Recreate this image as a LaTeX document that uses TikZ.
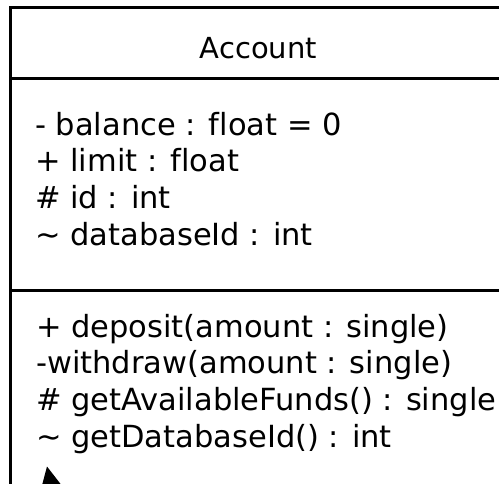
\documentclass[tikz,border=0pt]{standalone}
\usepackage{fontspec}
\setmainfont{DejaVu Sans}[Ligatures=NoCommon]
\begin{document}
\begin{tikzpicture}[x=1pt,y=-1pt,
  boxline/.style={line width=3pt,black},
  member/.style={anchor=base west,inner sep=0pt,font=\fontsize{30.5}{36}\selectfont},
  titletext/.style={anchor=base,inner sep=0pt,font=\fontsize{29}{36}\selectfont}]
\useasboundingbox (0,0) rectangle (499,483);
\clip (0,0) rectangle (499,483);
\fill[white] (0,0) rectangle (499,483);
% class box
\coordinate (tl) at (10,7);
\coordinate (tr) at (507,7);
\coordinate (bl) at (10,495);
\coordinate (hl) at (10,78);
\coordinate (hr) at (507,78);
\coordinate (al) at (10,290);
\coordinate (ar) at (507,290);
\draw[boxline] (bl) -- (tl) -- (tr);
\draw[boxline] (hl) -- (hr);
\draw[boxline] (al) -- (ar);
% title
\node[titletext] (title) at (258.5,58) {Account};
% attributes
\node[member] (a1) at (35,135) {- balance : float = 0};
\node[member] (a2) at (35,171.5) {+ limit : float};
\node[member] (a3) at (35,208) {\# id : int};
\node[member] (a4) at (35,245) {\char"007E{} databaseId : int};
% operations
\node[member] (m1) at (36,337) {+ deposit(amount : single)};
\node[member] (m2) at (36,373.5) {-withdraw(amount : single)};
\node[member] (m3) at (36,410) {\# getAvailableFunds() : single};
\node[member] (m4) at (36,447) {\char"007E{} getDatabaseId() : int};
% arrowhead
\fill[black] (47,466.5) -- (40.5,491) -- (66,491) -- cycle;
\end{tikzpicture}
\end{document}
